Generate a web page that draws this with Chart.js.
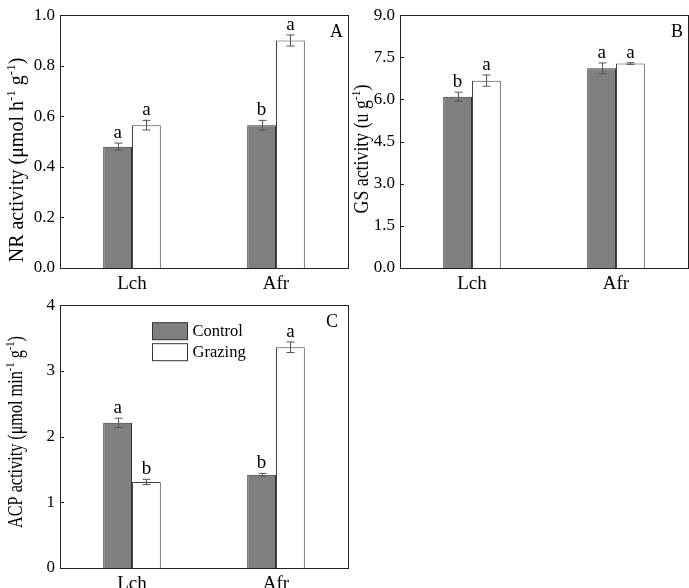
<!DOCTYPE html>
<html>
<head>
<meta charset="utf-8">
<script src="https://cdn.jsdelivr.net/npm/chart.js@4.4.0/dist/chart.umd.min.js"></script>
<style>
body { margin: 0; background: #fff; }
.panel { position: absolute; }
</style>
</head>
<body>
<div class="panel" style="left:0;top:0"><canvas id="chartA" width="350" height="300"></canvas></div>
<div class="panel" style="left:345px;top:0"><canvas id="chartB" width="344" height="300"></canvas></div>
<div class="panel" style="left:0;top:290px"><canvas id="chartC" width="350" height="298"></canvas></div>
<script>
const categories = ['Lch', 'Afr'];
const seriesNames = ['Control', 'Grazing'];

// A: NR activity
const nrControl = [0.48, 0.565];
const nrGrazing = [0.565, 0.90];
const nrControlErr = [0.014, 0.019];
const nrGrazingErr = [0.019, 0.022];
const nrControlSig = ['a', 'b'];
const nrGrazingSig = ['a', 'a'];
const nrTicks = [0, 0.2, 0.4, 0.6, 0.8, 1.0];

// B: GS activity
const gsControl = [6.10, 7.11];
const gsGrazing = [6.67, 7.28];
const gsControlErr = [0.16, 0.19];
const gsGrazingErr = [0.20, 0.03];
const gsControlSig = ['b', 'a'];
const gsGrazingSig = ['a', 'a'];
const gsTicks = [0, 1.5, 3.0, 4.5, 6.0, 7.5, 9.0];

// C: ACP activity
const acpControl = [2.21, 1.42];
const acpGrazing = [1.31, 3.36];
const acpControlErr = [0.07, 0.02];
const acpGrazingErr = [0.04, 0.08];
const acpControlSig = ['a', 'b'];
const acpGrazingSig = ['b', 'a'];
const acpTicks = [0, 1, 2, 3, 4];

// axis titles, [text, isSuperscript]
const nrTitle = [['NR activity (\u03bcmol h', 0], ['-1', 1], [' g', 0], ['-1', 1], [')', 0]];
const gsTitle = [['GS activity (u g', 0], ['-1', 1], [')', 0]];
const acpTitle = [['ACP activity (\u03bcmol min', 0], ['-1', 1], [' g', 0], ['-1', 1], [')', 0]];

const serif = "'Liberation Serif', 'Times New Roman', serif";
Chart.defaults.font.family = serif;
Chart.defaults.color = '#000';

function line(ctx, x1, y1, x2, y2) {
    ctx.beginPath();
    ctx.moveTo(x1, y1);
    ctx.lineTo(x2, y2);
    ctx.stroke();
}

// error bars, letters, frame, inner ticks, titles, legend
const extras = {
    id: 'extras',
    afterDatasetsDraw(chart, args, opts) {
        const ctx = chart.ctx;
        const area = chart.chartArea;
        const yScale = chart.scales.y;
        ctx.save();

        chart.data.datasets.forEach((ds, di) => {
            chart.getDatasetMeta(di).data.forEach((bar, i) => {
                const v = ds.data[i];
                const e = ds.errors[i];
                const x = Math.round(bar.x) + 0.5;
                const yHi = yScale.getPixelForValue(v + e);
                const yLo = yScale.getPixelForValue(v - e);
                ctx.strokeStyle = '#555';
                ctx.lineWidth = 1;
                line(ctx, x, yHi, x, yLo);
                line(ctx, x - 4, yHi, x + 4, yHi);
                line(ctx, x - 4, yLo, x + 4, yLo);
                ctx.fillStyle = '#000';
                ctx.font = '19px ' + serif;
                ctx.textAlign = 'center';
                ctx.textBaseline = 'alphabetic';
                ctx.fillText(ds.sig[i], bar.x, yHi - 5);
            });
        });

        // inward ticks on the y axis
        ctx.strokeStyle = '#222';
        ctx.lineWidth = 1;
        yScale.ticks.forEach(t => {
            const y = Math.round(yScale.getPixelForValue(t.value)) + 0.5;
            line(ctx, area.left, y, area.left + 4, y);
        });

        // frame
        ctx.strokeRect(Math.round(area.left) + 0.5, Math.round(area.top) + 0.5,
            Math.round(area.right - area.left), Math.round(area.bottom - area.top));

        // panel letter
        ctx.fillStyle = '#000';
        ctx.font = '18px ' + serif;
        ctx.textAlign = 'right';
        ctx.fillText(opts.letter, area.right - opts.letterDx, area.top + opts.letterDy);

        // y axis title with superscripts
        const mainFont = opts.titleSize + 'px ' + serif;
        const supFont = Math.round(opts.titleSize * 0.65) + 'px ' + serif;
        const supShift = opts.titleSize * 0.4;
        let total = 0;
        opts.title.forEach(([t, sup]) => {
            ctx.font = sup ? supFont : mainFont;
            total += ctx.measureText(t).width;
        });
        ctx.translate(opts.titleX, opts.titleY);
        ctx.rotate(-Math.PI / 2);
        ctx.scale(opts.titleStretch, 1);
        ctx.textAlign = 'left';
        let pos = -total / 2;
        opts.title.forEach(([t, sup]) => {
            ctx.font = sup ? supFont : mainFont;
            ctx.fillText(t, pos, sup ? -supShift : 0);
            pos += ctx.measureText(t).width;
        });
        ctx.setTransform(1, 0, 0, 1, 0, 0);

        // legend inside the plot
        if (opts.legend) {
            chart.data.datasets.forEach((ds, di) => {
                const bx = area.left + 92.5;
                const by = area.top + 17.5 + di * 21;
                ctx.fillStyle = ds.backgroundColor;
                ctx.fillRect(bx, by, 35, 17);
                ctx.strokeStyle = '#333';
                ctx.strokeRect(bx, by, 35, 17);
                ctx.fillStyle = '#000';
                ctx.font = '16.5px ' + serif;
                ctx.textAlign = 'left';
                ctx.textBaseline = 'middle';
                ctx.fillText(ds.label, bx + 40, by + 9);
            });
        }
        ctx.restore();
    }
};

function makeChart(id, control, grazing, controlErr, grazingErr, controlSig, grazingSig,
                   ticks, decimals, layout) {
    return new Chart(document.getElementById(id), {
        type: 'bar',
        data: {
            labels: categories,
            datasets: [{
                label: seriesNames[0],
                data: control,
                errors: controlErr,
                sig: controlSig,
                backgroundColor: '#7f7f7f',
                borderColor: '#333',
                borderWidth: 1
            }, {
                label: seriesNames[1],
                data: grazing,
                errors: grazingErr,
                sig: grazingSig,
                backgroundColor: '#ffffff',
                borderColor: '#444',
                borderWidth: 1
            }]
        },
        options: {
            responsive: false,
            animation: false,
            devicePixelRatio: 1,
            layout: { autoPadding: false, padding: layout.padding },
            categoryPercentage: 0.4,
            barPercentage: 1.0,
            scales: {
                x: {
                    grid: { display: false, drawTicks: false },
                    border: { display: false },
                    ticks: { font: { size: 19, lineHeight: 1 }, padding: 7 },
                    afterFit: s => { s.height = layout.xHeight; }
                },
                y: {
                    min: ticks[0],
                    max: ticks[ticks.length - 1],
                    grid: { display: false, drawTicks: false },
                    border: { display: false },
                    afterBuildTicks: s => { s.ticks = ticks.map(v => ({ value: v })); },
                    ticks: {
                        font: { size: 17 },
                        padding: 5,
                        callback: v => Number(v).toFixed(decimals)
                    },
                    afterFit: s => { s.width = layout.yWidth; }
                }
            },
            plugins: {
                legend: { display: false },
                tooltip: { enabled: false },
                extras: {
                    letter: layout.letter,
                    letterDx: layout.letterDx,
                    letterDy: 22,
                    title: layout.title,
                    titleSize: 20,
                    titleStretch: layout.titleStretch,
                    titleX: layout.titleX,
                    titleY: layout.titleY,
                    legend: layout.legend
                }
            }
        },
        plugins: [extras]
    });
}

makeChart('chartA', nrControl, nrGrazing, nrControlErr, nrGrazingErr, nrControlSig, nrGrazingSig,
    nrTicks, 1, {
        padding: { left: 0, top: 7, right: 2, bottom: 0 },
        xHeight: 32, yWidth: 60, letter: 'A', letterDx: 5,
        title: nrTitle, titleStretch: 1, titleX: 23, titleY: 160, legend: false
    });

makeChart('chartB', gsControl, gsGrazing, gsControlErr, gsGrazingErr, gsControlSig, gsGrazingSig,
    gsTicks, 1, {
        padding: { left: 0, top: 7, right: 1, bottom: 0 },
        xHeight: 32, yWidth: 55, letter: 'B', letterDx: 5,
        title: gsTitle, titleStretch: 0.89, titleX: 23, titleY: 149, legend: false
    });

makeChart('chartC', acpControl, acpGrazing, acpControlErr, acpGrazingErr, acpControlSig, acpGrazingSig,
    acpTicks, 0, {
        padding: { left: 0, top: 15, right: 2, bottom: 0 },
        xHeight: 20, yWidth: 60, letter: 'C', letterDx: 10,
        title: acpTitle, titleStretch: 0.81, titleX: 22, titleY: 142, legend: true
    });
</script>
</body>
</html>
